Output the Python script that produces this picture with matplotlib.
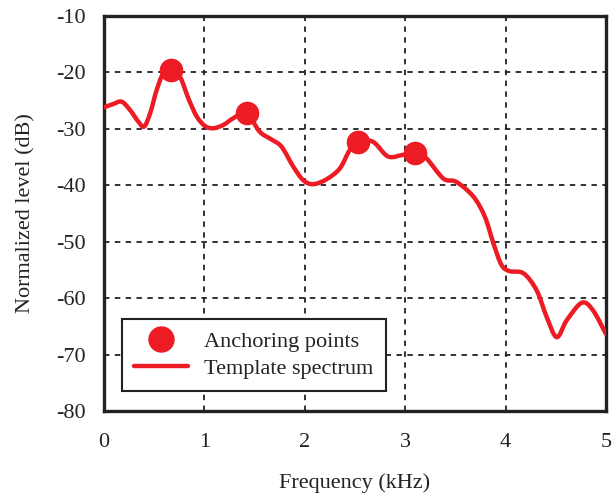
import matplotlib
matplotlib.use("Agg")
import matplotlib.pyplot as plt
from matplotlib.path import Path
from matplotlib.patches import PathPatch
from matplotlib.lines import Line2D

plt.rcParams['font.family'] = ['Liberation Serif', 'DejaVu Serif']

# Template spectrum (kHz, dB)
freq = [0.0, 0.093, 0.176, 0.26, 0.34, 0.40, 0.46, 0.525, 0.59, 0.667, 0.757,
        0.84, 0.923, 1.006, 1.09, 1.19, 1.29, 1.42, 1.55, 1.67, 1.77, 1.886,
        1.985, 2.085, 2.22, 2.35, 2.45, 2.54, 2.68, 2.83, 2.98, 3.10, 3.21,
        3.38, 3.51, 3.68, 3.795, 3.88, 3.96, 4.04, 4.18, 4.31, 4.41, 4.51,
        4.61, 4.76, 4.87, 5.0]
level = [-26.2, -25.6, -25.2, -26.7, -28.7, -29.6, -27.2, -23.1, -20.2, -19.6,
         -20.8, -24.6, -27.8, -29.5, -29.9, -29.3, -28.1, -27.2, -30.5, -31.9,
         -33.2, -36.7, -39.1, -39.8, -38.9, -37.0, -33.7, -32.3, -32.3, -34.9,
         -34.6, -34.3, -35.2, -38.8, -39.4, -42.0, -45.6, -50.3, -54.1, -55.2,
         -55.6, -58.6, -63.3, -66.9, -63.9, -60.8, -62.1, -66.3]

# Anchoring points
anchor_freq = [0.667, 1.42, 2.53, 3.10]
anchor_level = [-19.6, -27.2, -32.3, -34.3]

x_ticks = [0, 1, 2, 3, 4, 5]
y_ticks = [-80, -70, -60, -50, -40, -30, -20, -10]

red = '#ED1C24'
ink = '#222222'


def smooth_path(xs, ys):
    """Catmull-Rom curve through the points, as cubic Bezier path segments."""
    verts = [(xs[0], ys[0])]
    codes = [Path.MOVETO]
    n = len(xs)
    for i in range(n - 1):
        x0, y0 = (xs[i - 1], ys[i - 1]) if i > 0 else (xs[i], ys[i])
        x1, y1 = xs[i], ys[i]
        x2, y2 = xs[i + 1], ys[i + 1]
        x3, y3 = (xs[i + 2], ys[i + 2]) if i + 2 < n else (x2, y2)
        c1 = (x1 + (x2 - x0) / 6.0, y1 + (y2 - y0) / 6.0)
        c2 = (x2 - (x3 - x1) / 6.0, y2 - (y3 - y1) / 6.0)
        verts += [c1, c2, (x2, y2)]
        codes += [Path.CURVE4] * 3
    return Path(verts, codes)


fig = plt.figure(figsize=(6.12, 4.96), dpi=100)
ax = fig.add_axes([0.170, 0.171, 0.820, 0.797])

patch = PathPatch(smooth_path(freq, level), facecolor='none', edgecolor=red,
                  lw=3.2, capstyle='round', joinstyle='round', zorder=3,
                  transform=ax.transData)
patch.set_clip_on(True)
ax.add_patch(patch)
ax.plot(anchor_freq, anchor_level, 'o', color=red, markersize=16,
        linestyle='none', zorder=4)

ax.set_xlim(0, 5)
ax.set_ylim(-80, -10)
ax.set_xticks(x_ticks)
ax.set_yticks(y_ticks)
ax.set_xticklabels([str(v) for v in x_ticks])
ax.set_yticklabels([str(v) for v in y_ticks])
ax.tick_params(axis='both', length=0, labelsize=16, labelcolor=ink)
ax.tick_params(axis='x', pad=16)
ax.tick_params(axis='y', pad=13)

ax.grid(True, color=ink, linestyle=(0, (3, 3)), linewidth=1.3)
for s in ax.spines.values():
    s.set_linewidth(2.4)
    s.set_color(ink)

ax.set_xlabel('Frequency (kHz)', fontsize=16, labelpad=15, color=ink)
ax.set_ylabel('Normalized level (dB)', fontsize=16, labelpad=15, color=ink)

handles = [Line2D([], [], marker='o', color=red, markersize=18, linestyle='none'),
           Line2D([], [], color=red, lw=3.2, solid_capstyle='round')]
labels = ['Anchoring points', 'Template spectrum']
leg = ax.legend(handles, labels, loc='lower left', borderaxespad=0,
                bbox_to_anchor=(0.036, 0.05), fontsize=16, frameon=True,
                fancybox=False, edgecolor=ink, framealpha=1,
                handlelength=2.4, borderpad=0.55, labelspacing=0.3,
                handletextpad=0.75, labelcolor=ink)
leg.get_frame().set_linewidth(1.5)

fig.savefig('out.png', dpi=100)
